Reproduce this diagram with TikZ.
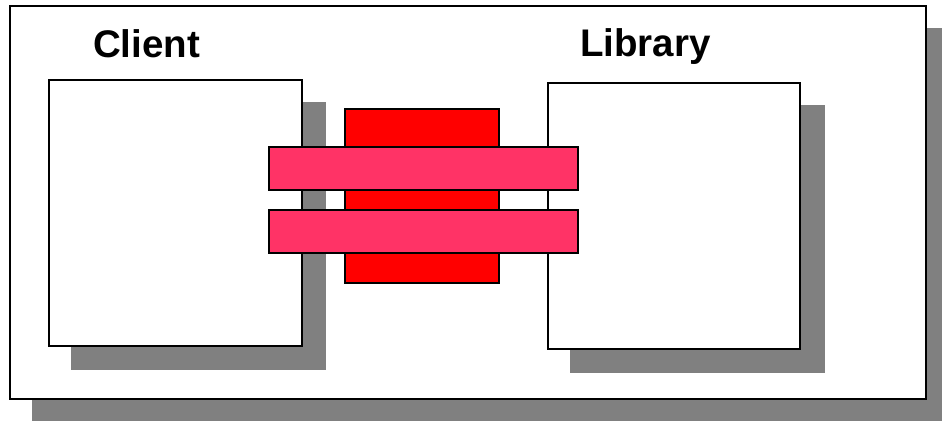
\documentclass[tikz,border=0pt]{standalone}
\usepackage{fontspec}
\setmainfont{Liberation Sans}
\definecolor{shadowgray}{HTML}{808080}
\definecolor{boxred}{HTML}{FF0000}
\definecolor{barpink}{HTML}{FF3366}
\begin{document}
\begin{tikzpicture}[x=1pt,y=-1pt,
  shadowbox/.style={fill=shadowgray,draw=none},
  panel/.style={fill=white,draw=black,line width=1.6pt},
  redblock/.style={fill=boxred,draw=black,line width=1.4pt},
  pinkbar/.style={fill=barpink,draw=black,line width=1.4pt},
  title/.style={font=\fontsize{38.5}{40}\selectfont\bfseries,inner sep=0pt,anchor=base west}]
\useasboundingbox (0,0) rectangle (942,421);
% outer frame
\fill[shadowgray] (32,28) rectangle (942,421);
\draw[panel] (10,6) rectangle (926,399);
% client
\fill[shadowgray] (71,102) rectangle (326,370);
\draw[panel] (49,80) rectangle (302,346);
\node[coordinate] (client) at (175,213) {};
% library
\fill[shadowgray] (570,105) rectangle (825,373);
\draw[panel] (548,83) rectangle (800,349);
\node[coordinate] (library) at (674,216) {};
% red block
\draw[redblock] (345,109) rectangle (499,283);
% pink bars
\draw[pinkbar] (269,147) rectangle (578,190);
\draw[pinkbar] (269,210) rectangle (578,253);
% labels
\node[title] (clientlabel) at (93,57) {Client};
\node[title] (librarylabel) at (580,56) {Library};
\end{tikzpicture}
\end{document}
